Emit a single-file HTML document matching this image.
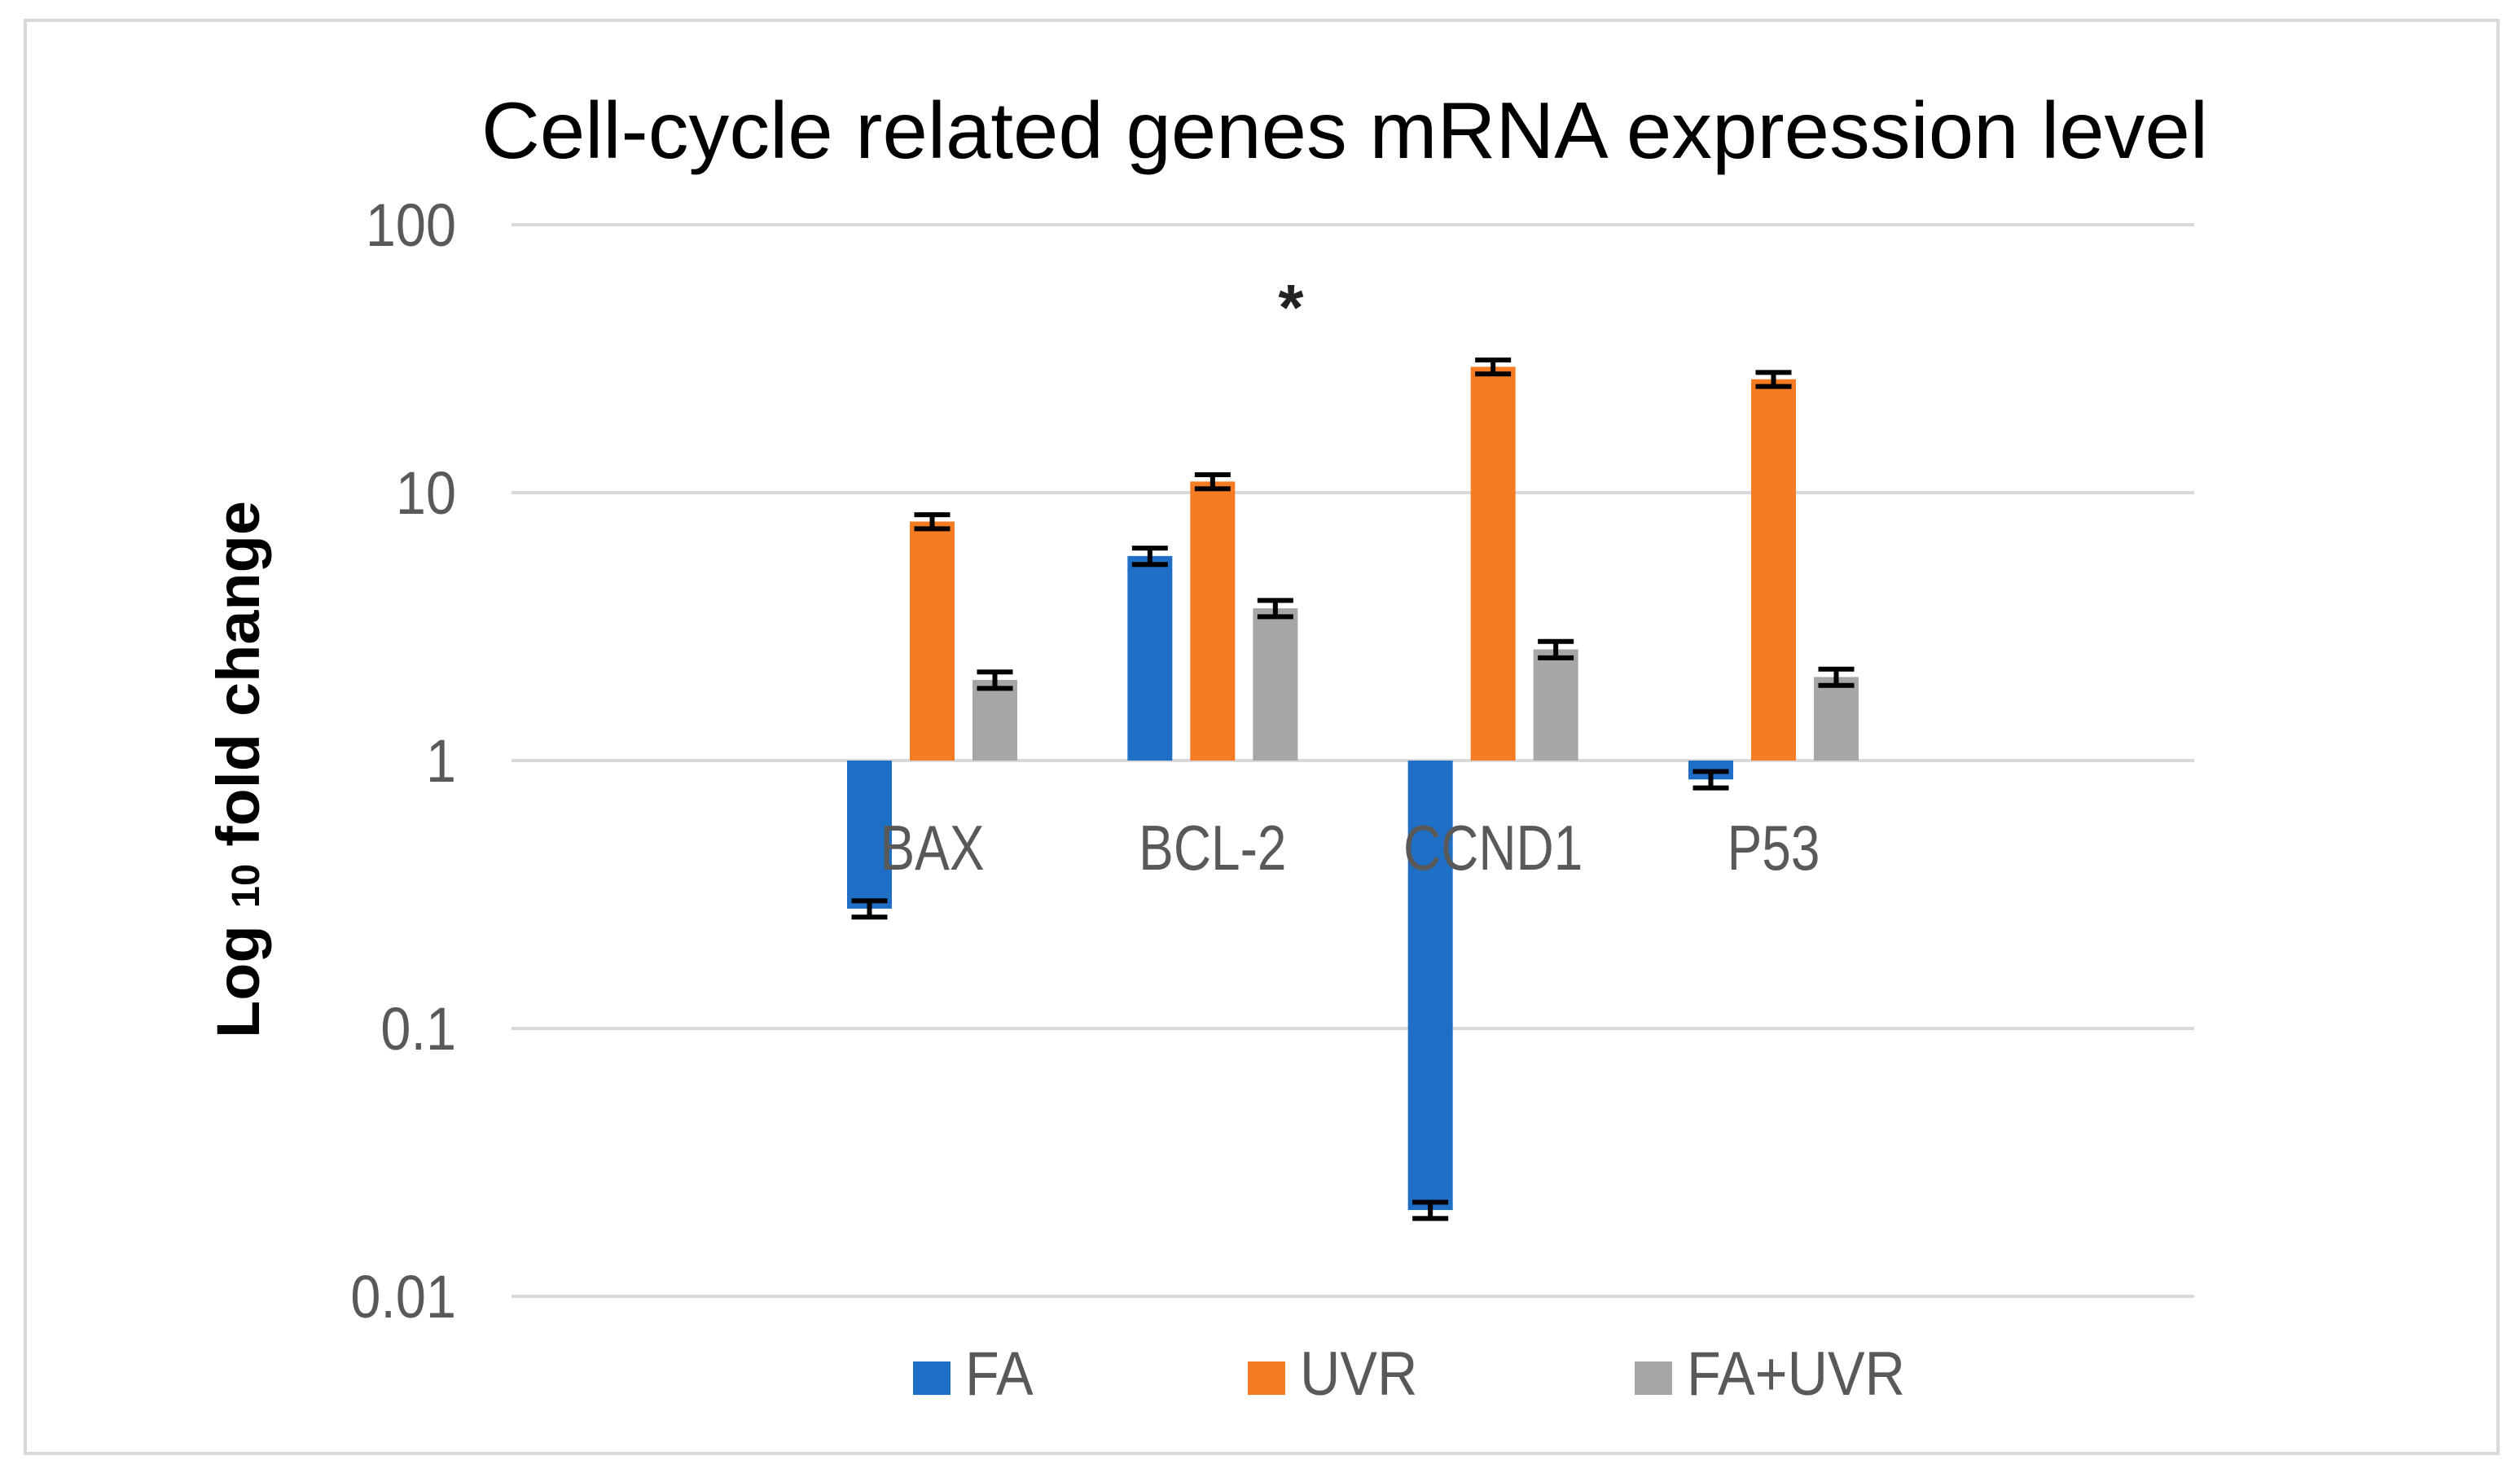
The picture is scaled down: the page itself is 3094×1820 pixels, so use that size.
<!DOCTYPE html>
<html><head><meta charset="utf-8"><style>
html,body{margin:0;padding:0;background:#fff;}
svg{display:block;}
text{font-family:"Liberation Sans",sans-serif;}
</style></head><body>
<svg id="chart" width="3094" height="1820" viewBox="0 0 3094 1820" xmlns="http://www.w3.org/2000/svg">
<rect x="31" y="25" width="3036" height="1760" fill="#fff" stroke="#d9d9d9" stroke-width="4"/>
<text x="1651" y="194" text-anchor="middle" font-size="98" fill="#000" textLength="2120" lengthAdjust="spacingAndGlyphs">Cell-cycle related genes mRNA expression level</text>
<g id="grid"></g>
<g id="bars"></g>
<g id="labels"></g>
<text x="1585" y="405" text-anchor="middle" font-size="80" font-weight="bold" fill="#222">*</text>
<text transform="translate(318,945) rotate(-90)" text-anchor="middle" font-size="74" font-weight="bold" fill="#000" textLength="660" lengthAdjust="spacingAndGlyphs">Log <tspan font-size="48">10</tspan> fold change</text>
<g id="legend"></g>
</svg>
<script>
const categories = ["", "BAX", "BCL-2", "CCND1", "P53", ""];
const seriesNames = ["FA", "UVR", "FA+UVR"];
const faValues = [null, 0.28, 5.8, 0.021, 0.85, null];
const uvrValues = [null, 7.8, 11, 29.5, 26.5, null];
const faUvrValues = [null, 2.0, 3.7, 2.6, 2.05, null];
const errFraction = [0.07, 0.06, 0.07];
const tickValues = [100, 10, 1, 0.1, 0.01];
const tickLabels = ["100", "10", "1", "0.1", "0.01"];

const colors = ["#1f6fc6", "#f57c22", "#a6a6a6"];
const series = [faValues, uvrValues, faUvrValues];
const NS = "http://www.w3.org/2000/svg";
const plotL = 628, plotR = 2694, yTop = 276, decade = 329;
function y(v){ return yTop + (2 - Math.log10(v)) * decade; }
const catW = (plotR - plotL) / categories.length;
function xc(i){ return plotL + catW * (i + 0.5); }
const barW = 55, step = 77;
function mk(tag, attrs, parent){ const e = document.createElementNS(NS, tag); for (const k in attrs) e.setAttribute(k, attrs[k]); parent.appendChild(e); return e; }
function condense(el, f){ const w = el.getComputedTextLength(); el.setAttribute("textLength", w * f); el.setAttribute("lengthAdjust", "spacingAndGlyphs"); }

const grid = document.getElementById("grid");
tickValues.forEach((t, i) => {
  const l = mk("line", {x1: plotL, x2: plotR, y1: y(t), y2: y(t), stroke: "#d9d9d9", "stroke-width": 4}, grid);
  
  
  const tx = mk("text", {x: 560, y: y(t) + 26, "text-anchor": "end", "font-size": 74, fill: "#595959"}, grid);
  tx.textContent = tickLabels[i];
  
  
  condense(tx, 0.9);
});

const bars = document.getElementById("bars");
const base = y(1);
series.forEach((vals, s) => {
  vals.forEach((v, i) => {
    if (v == null) return;
    const x = xc(i) + (s - 1) * step - barW / 2;
    const yv = y(v);
    const r = mk("rect", {x: x, y: Math.min(yv, base), width: barW, height: Math.abs(base - yv), fill: colors[s]}, bars);
    
    
    const e = errFraction[s] * v;
    const y1 = y(v + e), y2 = y(v - e), cx = x + barW / 2;
    const eb = mk("path", {d: `M${cx},${y1}V${y2}M${cx-22},${y1}H${cx+22}M${cx-22},${y2}H${cx+22}`, stroke: "#000", "stroke-width": 6, fill: "none"}, bars);
    
    
  });
});

const labels = document.getElementById("labels");
categories.forEach((c, i) => {
  if (!c) return;
  const t = mk("text", {x: xc(i), y: 1068, "text-anchor": "middle", "font-size": 78, fill: "#595959"}, labels);
  t.textContent = c;
  
  
  condense(t, 0.82);
});

const legend = document.getElementById("legend");
const legX = [1121, 1532, 2007];
seriesNames.forEach((n, s) => {
  const r = mk("rect", {x: legX[s], y: 1672, width: 46, height: 41, fill: colors[s]}, legend);
  
  
  const t = mk("text", {x: legX[s] + 64, y: 1713, "font-size": 76, fill: "#595959"}, legend);
  t.textContent = n;
  
  
  condense(t, 0.9);
});
</script>
</body></html>
